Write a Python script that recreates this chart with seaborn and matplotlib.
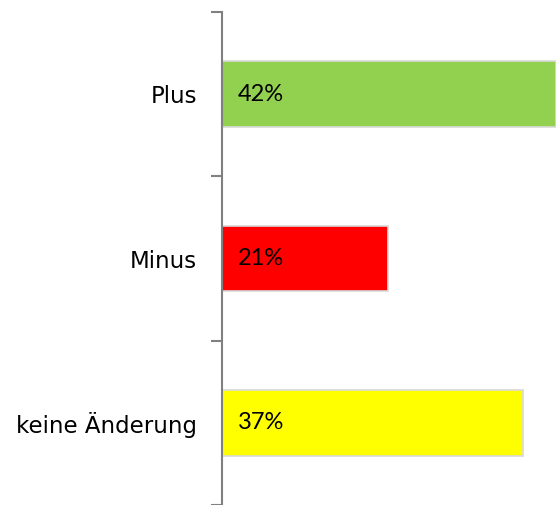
import matplotlib
matplotlib.use("Agg")
import matplotlib.pyplot as plt
from matplotlib.ticker import FixedLocator
import seaborn as sns
import pandas as pd

categories = ["Plus", "Minus", "keine Änderung"]
values = [42, 20.9, 37.8]
labels = ["42%", "21%", "37%"]
colors = ["#92D050", "#FF0000", "#FFFF00"]

sns.set_style("white")
plt.rcParams['font.family'] = ['DejaVu Sans']

df = pd.DataFrame({"cat": categories, "val": values})
fig = plt.figure(figsize=(5.56, 5.05), dpi=100)
ax = fig.add_axes([222/556, 0.0, 1 - 222/556, (505-12)/505])
sns.barplot(data=df, y="cat", x="val", hue="cat", palette=colors, legend=False,
            width=0.4, edgecolor="#d9d9d9", linewidth=1.2, ax=ax, saturation=1)
ax.set_xlim(0, 42)
ax.set_ylim(2.5, -0.5)
for sp in ["top", "right", "bottom"]:
    ax.spines[sp].set_visible(False)
ax.spines["left"].set_color("#808080")
ax.spines["left"].set_linewidth(1.5)
ax.set_xticks([])
ax.set_xlabel("")
ax.set_ylabel("")
ax.tick_params(axis="y", which="major", length=0, pad=18, labelsize=16.5, labelcolor="black")
ax.yaxis.set_minor_locator(FixedLocator([-0.5, 0.5, 1.5, 2.5]))
ax.tick_params(axis="y", which="minor", length=8, width=1.5, color="#808080", left=True)
for i, (v, t) in enumerate(zip(values, labels)):
    ax.text(2.0, i, t, va="center", ha="left", fontsize=17, color="black",
            family=["Lato", "DejaVu Sans"])
fig.savefig("out.png", dpi=100)
